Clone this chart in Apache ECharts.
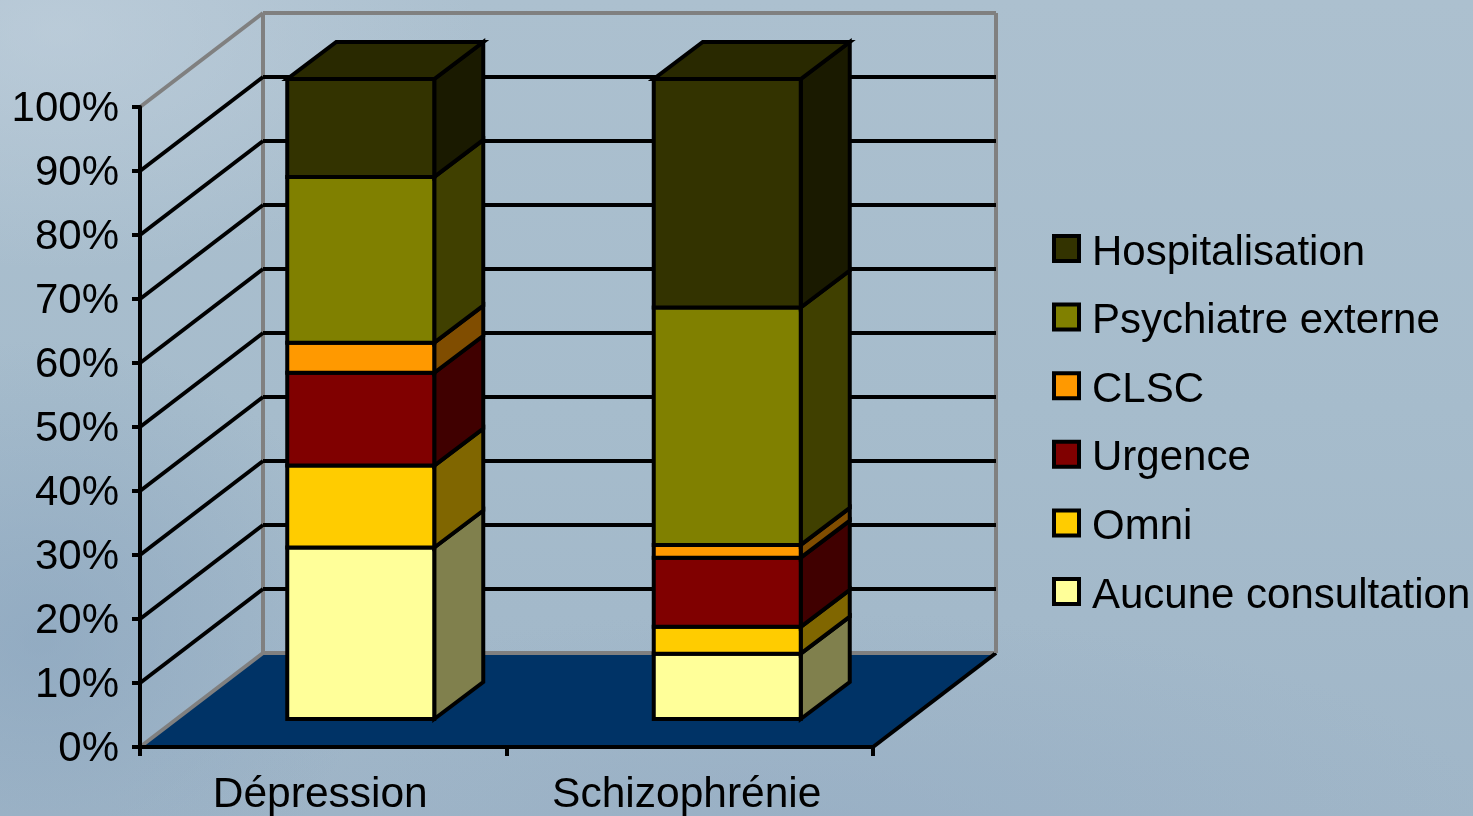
<!DOCTYPE html>
<html lang="fr">
<head>
<meta charset="utf-8">
<title>Consultations par diagnostic</title>
<style>
  html, body { margin: 0; height: 100%; overflow: hidden; }
  body {
    background:
      radial-gradient(ellipse 420px 240px at 60px 30px, rgba(200,214,226,.5), rgba(200,214,226,0)),
      radial-gradient(ellipse 330px 300px at 40px 640px, rgba(130,158,186,.5), rgba(130,158,186,0)),
      radial-gradient(ellipse 700px 220px at 800px 830px, rgba(146,170,194,.5), rgba(146,170,194,0)),
      linear-gradient(180deg, #acc0cf 0%, #a6bccc 50%, #a0b6c8 100%);
  }
  #chart { width: 1473px; height: 816px; }
</style>
</head>
<body>
<div id="chart"></div>
<script src="https://cdn.jsdelivr.net/npm/echarts@6/dist/echarts.min.js"></script>
<script>
// Share of patients (%) per first resource used, bottom of the stack first
const categories = ['Dépression', 'Schizophrénie'];
const aucune = [26.8, 10.2];
const omni = [12.8, 4.2];
const urgence = [14.5, 10.8];
const clsc = [4.7, 2.0];
const psychiatre = [25.9, 37.1];
const hospitalisation = [15.3, 35.7];
const yTicks = [10, 20, 30, 40, 50, 60, 70, 80, 90];

const stackNames = ['Aucune consultation', 'Omni', 'Urgence', 'CLSC', 'Psychiatre externe', 'Hospitalisation'];
const stackValues = [aucune, omni, urgence, clsc, psychiatre, hospitalisation];
const frontColors = ['#ffff99', '#ffcc00', '#800000', '#ff9900', '#808000', '#333300'];
const sideColors = ['#80804d', '#806600', '#400000', '#804d00', '#404000', '#1a1a00'];
const topColor = '#292900';

// Oblique projection: depth of the chart box, and placement of the bars inside it
const BOX_DX = 123, BOX_DY = -94;
const BAR_DX = 37.5, BAR_DY = -28;
const DEPTH_DX = 49, DEPTH_DY = -37;
const BAR_WIDTH = 147;
const STROKE = 4;
const INK = { stroke: '#000', lineWidth: STROKE, lineJoin: 'miter' };

function line(x1, y1, x2, y2, stroke) {
  return { type: 'line', shape: { x1, y1, x2, y2 }, style: { stroke, lineWidth: STROKE, lineCap: 'butt' } };
}
function poly(points, fill) {
  return { type: 'polygon', shape: { points }, style: Object.assign({ fill }, INK) };
}

// Floor, side wall and back wall with their gridlines
function renderBox(params, api) {
  const g = params.coordSys;
  const x0 = g.x, x1 = g.x + g.width;
  const children = [];
  const yOf = v => api.coord([0, v])[1];
  if (params.dataIndex === 0) {
    const y0 = yOf(0), yTop = yOf(100);
    children.push({
      type: 'polygon',
      shape: { points: [[x0, y0], [x1, y0], [x1 + BOX_DX, y0 + BOX_DY], [x0 + BOX_DX, y0 + BOX_DY]] },
      style: { fill: '#003366' }
    });
    children.push(line(x0, y0, x0 + BOX_DX, y0 + BOX_DY, '#808080'));
    children.push(line(x0 + BOX_DX, y0 + BOX_DY, x1 + BOX_DX, y0 + BOX_DY, '#808080'));
    children.push(line(x1, y0, x1 + BOX_DX, y0 + BOX_DY, '#000'));
    children.push(line(x0, yTop, x0 + BOX_DX, yTop + BOX_DY, '#808080'));
    children.push(line(x0 + BOX_DX, yTop + BOX_DY, x1 + BOX_DX, yTop + BOX_DY, '#808080'));
    children.push(line(x0 + BOX_DX, y0 + BOX_DY, x0 + BOX_DX, yTop + BOX_DY, '#808080'));
    children.push(line(x1 + BOX_DX, y0 + BOX_DY, x1 + BOX_DX, yTop + BOX_DY, '#808080'));
  } else {
    const y = yOf(api.value(0));
    children.push(line(x0, y, x0 + BOX_DX, y + BOX_DY, '#000'));
    children.push(line(x0 + BOX_DX, y + BOX_DY, x1 + BOX_DX, y + BOX_DY, '#000'));
  }
  return { type: 'group', children };
}

// One slab of a stacked column: front face, side face and, for the last slab, the lid
function renderSlab(colorIndex, isLast) {
  return function (params, api) {
    const low = api.coord([api.value(0), api.value(1)]);
    const high = api.coord([api.value(0), api.value(2)]);
    const l = low[0] + BAR_DX - BAR_WIDTH / 2, r = l + BAR_WIDTH;
    const yb = low[1] + BAR_DY, yt = high[1] + BAR_DY;
    const children = [
      poly([[r, yb], [r + DEPTH_DX, yb + DEPTH_DY], [r + DEPTH_DX, yt + DEPTH_DY], [r, yt]], sideColors[colorIndex]),
      poly([[l, yb], [r, yb], [r, yt], [l, yt]], frontColors[colorIndex])
    ];
    if (isLast) {
      children.push(poly([[l, yt], [r, yt], [r + DEPTH_DX, yt + DEPTH_DY], [l + DEPTH_DX, yt + DEPTH_DY]], topColor));
    }
    return { type: 'group', children };
  };
}

const slabSeries = stackNames.map((name, s) => ({
  name,
  type: 'custom',
  coordinateSystem: 'cartesian2d',
  z: 3,
  clip: false,
  itemStyle: { color: frontColors[s] },
  renderItem: renderSlab(s, s === stackNames.length - 1),
  encode: { x: 0, y: [1, 2] },
  data: categories.map((_, c) => {
    const base = stackValues.slice(0, s).reduce((sum, arr) => sum + arr[c], 0);
    return [c, base, base + stackValues[s][c]];
  })
}));

const chart = echarts.init(document.getElementById('chart'), null, { renderer: 'canvas' });
chart.setOption({
  animation: false,
  backgroundColor: 'transparent',
  textStyle: { fontFamily: '"Liberation Sans", Arial, sans-serif', color: '#000' },
  grid: { left: 140, right: 600, top: 107, bottom: 69, containLabel: false, outerBoundsMode: 'none' },
  xAxis: {
    type: 'category',
    data: categories,
    z: 4,
    axisLine: { lineStyle: { color: '#000', width: STROKE } },
    axisTick: { show: true, alignWithLabel: false, length: 9, lineStyle: { color: '#000', width: STROKE } },
    axisLabel: { color: '#000', fontSize: 42.5, margin: 27, padding: [0, 6, 0, 0] },
    splitLine: { show: false }
  },
  yAxis: {
    type: 'value',
    min: 0,
    max: 100,
    interval: 10,
    z: 4,
    axisLine: { show: true, lineStyle: { color: '#000', width: STROKE } },
    axisTick: { show: true, length: 8, lineStyle: { color: '#000', width: STROKE } },
    axisLabel: {
      color: '#000',
      fontSize: 42,
      margin: 21,
      formatter: '{v|{value}%}',
      rich: { v: { fontSize: 42, color: '#000', padding: [4, 0, 0, 0] } }
    },
    splitLine: { show: false }
  },
  legend: {
    orient: 'vertical',
    left: 1052,
    top: 232,
    padding: 0,
    itemWidth: 25,
    itemHeight: 25,
    itemGap: 26.6,
    icon: 'rect',
    data: stackNames.slice().reverse(),
    selectedMode: false,
    itemStyle: { borderColor: '#000', borderWidth: STROKE },
    formatter: '{t|{name}}',
    textStyle: {
      color: '#000',
      fontSize: 42,
      rich: { t: { fontSize: 42, color: '#000', padding: [9, 0, 0, 8] } }
    }
  },
  series: [{
    name: 'cadre',
    type: 'custom',
    coordinateSystem: 'cartesian2d',
    z: 1,
    clip: false,
    renderItem: renderBox,
    encode: { y: 0 },
    data: [0].concat(yTicks)
  }].concat(slabSeries)
});
</script>
</body>
</html>
